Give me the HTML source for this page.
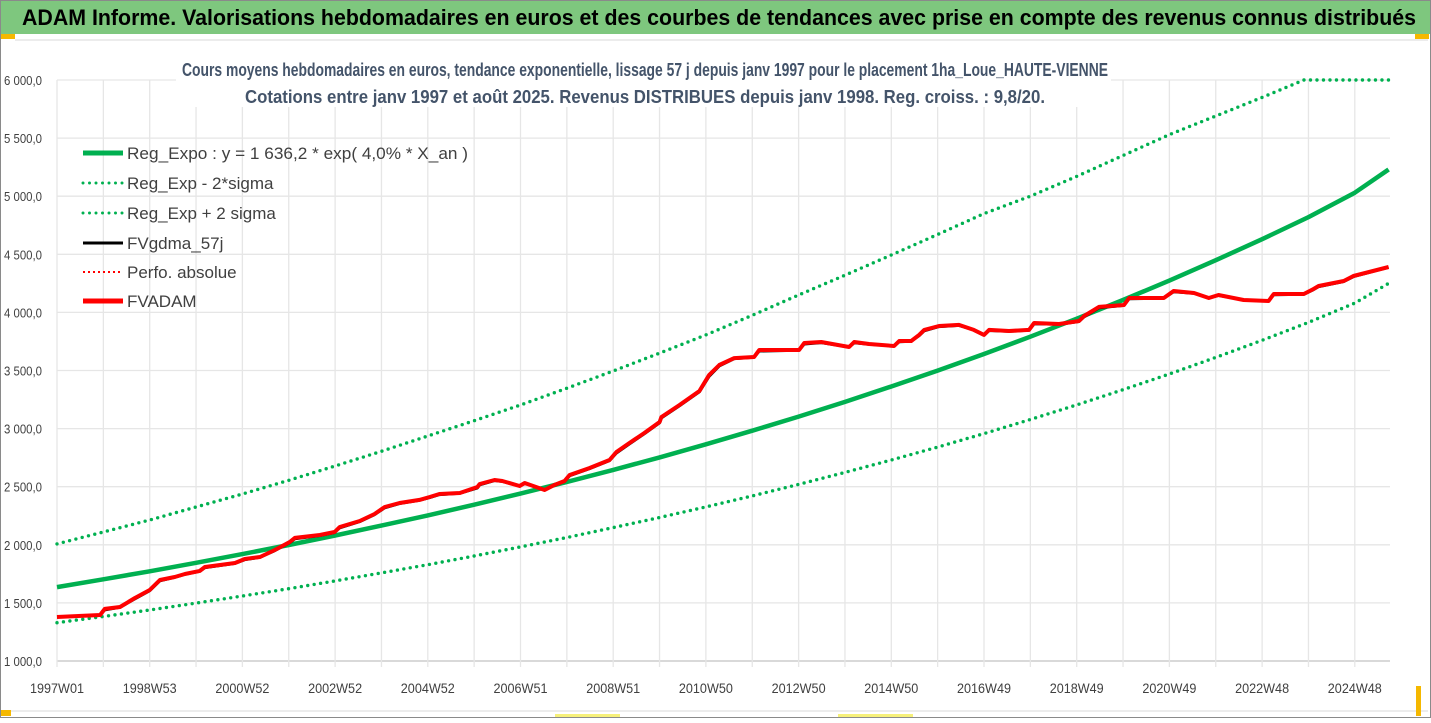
<!DOCTYPE html>
<html><head><meta charset="utf-8">
<style>
html,body{margin:0;padding:0;background:#fff;}
body{width:1431px;height:718px;position:relative;overflow:hidden;font-family:"Liberation Sans",sans-serif;}
svg text{font-family:"Liberation Sans",sans-serif;}
</style></head>
<body>
<svg id="chart" width="1431" height="718" viewBox="0 0 1431 718" xmlns="http://www.w3.org/2000/svg">
  <rect x="0.5" y="0.5" width="1430" height="717" fill="#fff" stroke="#8a8a8a"/>
  <rect x="1" y="1" width="1429" height="33" fill="#7ec77e"/>
  <text x="22" y="25" font-size="22" font-weight="bold" fill="#000" textLength="1394" lengthAdjust="spacingAndGlyphs">ADAM Informe. Valorisations hebdomadaires en euros et des courbes de tendances avec prise en compte des revenus connus distribués</text>
  <rect x="1" y="34" width="14" height="5" fill="#f5b800"/>
  <rect x="1415" y="34" width="14" height="5" fill="#f5b800"/>
  <line x1="15" y1="40" x2="1428" y2="40" stroke="#d8d8d8"/>
  <line x1="1" y1="711" x2="1428" y2="711" stroke="#d8d8d8"/>
  <rect x="1" y="710" width="10" height="6" fill="#f5b800"/>
  <rect x="1416" y="686" width="5" height="30" fill="#f5b800"/>
  <rect x="555" y="714" width="65" height="3" fill="#f6f07a"/>
  <rect x="838" y="714" width="75" height="3" fill="#f6f07a"/>
  <g id="grid"></g>
  <g id="axes"></g>
  <g id="series"></g>
  <rect x="176" y="57" width="935" height="50" fill="#fff"/>
  <text x="645" y="76" font-size="18" font-weight="bold" fill="#44546a" text-anchor="middle" textLength="926" lengthAdjust="spacingAndGlyphs">Cours moyens hebdomadaires en euros, tendance exponentielle, lissage 57 j depuis janv 1997 pour le placement 1ha_Loue_HAUTE-VIENNE</text>
  <text x="645" y="103" font-size="18" font-weight="bold" fill="#44546a" text-anchor="middle" textLength="800" lengthAdjust="spacingAndGlyphs">Cotations entre janv 1997 et août 2025. Revenus DISTRIBUES depuis janv 1998. Reg. croiss. : 9,8/20.</text>
  <g id="legend">
    <g>
      <line x1="83" y1="153" x2="123" y2="153" stroke="#00b050" stroke-width="5"/>
      <text x="127" y="159" font-size="17" fill="#404040" textLength="341" lengthAdjust="spacingAndGlyphs">Reg_Expo : y = 1 636,2 * exp( 4,0% *  X_an )</text>
    </g>
    <g>
      <line x1="83" y1="183" x2="123" y2="183" stroke="#00b050" stroke-width="3" stroke-dasharray="0 6.5" stroke-linecap="round"/>
      <text x="127" y="189" font-size="17" fill="#404040">Reg_Exp - 2*sigma</text>
    </g>
    <g>
      <line x1="83" y1="213" x2="123" y2="213" stroke="#00b050" stroke-width="3" stroke-dasharray="0 6.5" stroke-linecap="round"/>
      <text x="127" y="219" font-size="17" fill="#404040">Reg_Exp + 2 sigma</text>
    </g>
    <g>
      <line x1="83" y1="243" x2="123" y2="243" stroke="#000" stroke-width="3"/>
      <text x="127" y="249" font-size="17" fill="#404040">FVgdma_57j</text>
    </g>
    <g>
      <line x1="83" y1="272" x2="123" y2="272" stroke="#ff0000" stroke-width="2" stroke-dasharray="2 3"/>
      <text x="127" y="278" font-size="17" fill="#404040">Perfo. absolue</text>
    </g>
    <g>
      <line x1="83" y1="301" x2="123" y2="301" stroke="#ff0000" stroke-width="5"/>
      <text x="127" y="307" font-size="17" fill="#404040">FVADAM</text>
    </g>
  </g>
</svg>
<script>
// ---- data ----
const yTicks = [1000,1500,2000,2500,3000,3500,4000,4500,5000,5500,6000];
const yTickLabels = ["1 000,0","1 500,0","2 000,0","2 500,0","3 000,0","3 500,0","4 000,0","4 500,0","5 000,0","5 500,0","6 000,0"];
const xTickYears = [1997,1999,2001,2003,2005,2007,2009,2011,2013,2015,2017,2019,2021,2023,2025];
const xTickLabels = ["1997W01","1998W53","2000W52","2002W52","2004W52","2006W51","2008W51","2010W50","2012W50","2014W50","2016W49","2018W49","2020W49","2022W48","2024W48"];
const trendYears = [1997,1998,1999,2000,2001,2002,2003,2004,2005,2006,2007,2008,2009,2010,2011,2012,2013,2014,2015,2016,2017,2018,2019,2020,2021,2022,2023,2024,2025,2025.73];
const regExpo = [1636,1703,1772,1845,1920,1998,2080,2165,2253,2345,2441,2541,2645,2752,2865,2982,3103,3230,3362,3499,3642,3791,3946,4107,4274,4449,4630,4820,5030,5230];
const regMinus2Sigma = [1330,1383,1439,1498,1559,1622,1689,1758,1829,1904,1982,2063,2148,2235,2326,2421,2520,2623,2730,2841,2957,3078,3204,3335,3470,3613,3760,3914,4080,4250];
const upperYears = [1997,1998,1999,2000,2001,2002,2003,2004,2005,2006,2007,2008,2009,2010,2011,2012,2013,2014,2015,2016,2017,2018,2019,2020,2021,2022,2023,2023.9,2025.73];
const regPlus2Sigma = [2008,2110,2213,2325,2437,2555,2678,2805,2936,3068,3203,3348,3496,3650,3806,3975,4150,4320,4494,4670,4850,5000,5170,5350,5530,5690,5850,6000,6000];
const fvDates = [1997.00,1997.93,1998.03,1998.36,1998.68,1999.00,1999.22,1999.54,1999.76,2000.08,2000.19,2000.84,2001.05,2001.38,2001.70,2002.02,2002.13,2002.67,2002.99,2003.10,2003.53,2003.85,2004.07,2004.39,2004.82,2005.04,2005.25,2005.69,2006.07,2006.12,2006.44,2006.61,2006.98,2007.09,2007.52,2007.73,2007.95,2008.06,2008.49,2008.92,2009.07,2009.35,2009.67,2010.00,2010.04,2010.43,2010.86,2011.07,2011.29,2011.61,2012.04,2012.15,2013.01,2013.12,2013.49,2014.09,2014.20,2014.52,2015.06,2015.17,2015.43,2015.60,2015.71,2016.03,2016.46,2016.78,2017.00,2017.11,2017.54,2017.97,2018.08,2018.62,2019.05,2019.16,2019.48,2020.02,2020.13,2020.88,2021.09,2021.53,2021.85,2022.06,2022.60,2023.14,2023.25,2023.90,2024.11,2024.22,2024.76,2024.97,2025.73];
const fvadam = [1379,1396,1448,1465,1542,1611,1697,1723,1749,1775,1809,1843,1878,1895,1955,2024,2059,2084,2110,2153,2205,2265,2325,2360,2386,2411,2437,2446,2497,2523,2558,2549,2506,2532,2472,2515,2549,2601,2661,2730,2799,2876,2962,3057,3100,3203,3324,3461,3547,3607,3616,3676,3676,3737,3745,3702,3745,3728,3711,3754,3754,3806,3849,3883,3892,3849,3806,3849,3840,3849,3909,3900,3926,3969,4047,4064,4124,4124,4184,4167,4124,4150,4107,4098,4158,4158,4201,4227,4270,4313,4391];
const fvgdma = [1379,1396,1440,1462,1535,1605,1690,1720,1746,1772,1803,1840,1872,1892,1950,2018,2052,2080,2106,2146,2200,2260,2318,2355,2383,2406,2432,2443,2490,2516,2553,2546,2506,2528,2474,2510,2545,2595,2656,2725,2790,2868,2955,3050,3092,3196,3317,3450,3540,3602,3614,3668,3674,3728,3740,3702,3738,3726,3710,3748,3752,3800,3842,3878,3888,3849,3808,3844,3838,3846,3902,3898,3922,3962,4040,4060,4118,4122,4178,4165,4126,4146,4108,4098,4152,4156,4196,4222,4266,4308,4388];

// ---- axes ----
const X0 = 57, PX_PER_YEAR = 46.35, Y0 = 661, PX_PER_UNIT = 58.1/500;
function xScale(yr){ return X0 + (yr-1997)*PX_PER_YEAR; }
function yScale(v){ return Y0 - (v-1000)*PX_PER_UNIT; }
const XEND = 1390;
const NS = "http://www.w3.org/2000/svg";
const grid = document.getElementById('grid');
const axes = document.getElementById('axes');
const series = document.getElementById('series');

yTicks.forEach((v,i)=>{
  const y = yScale(v);
  const l = document.createElementNS(NS,'line');
  l.setAttribute('x1',X0); l.setAttribute('x2',XEND); l.setAttribute('y1',y); l.setAttribute('y2',y);
  l.setAttribute('stroke', v===1000 ? '#d9d9d9' : '#e6e6e6'); l.setAttribute('stroke-width', v===1000?2:1.3);
  
  
  grid.appendChild(l);
  const t = document.createElementNS(NS,'text');
  t.setAttribute('x',4); t.setAttribute('y',y+5);
  t.setAttribute('font-size','13'); t.setAttribute('fill','#404040');
  t.setAttribute('textLength','38'); t.setAttribute('lengthAdjust','spacingAndGlyphs');
  t.textContent = yTickLabels[i];
  
  
  axes.appendChild(t);
});
for(let yr=1997; xScale(yr)<=XEND; yr++){
  const x = xScale(yr);
  const l = document.createElementNS(NS,'line');
  l.setAttribute('x1',x); l.setAttribute('x2',x); l.setAttribute('y1',yScale(6000)); l.setAttribute('y2',Y0+6);
  l.setAttribute('stroke','#e6e6e6'); l.setAttribute('stroke-width',1.3);
  
  
  grid.appendChild(l);
}
xTickYears.forEach((yr,i)=>{
  const t = document.createElementNS(NS,'text');
  t.setAttribute('x',xScale(yr)); t.setAttribute('y',693); t.setAttribute('text-anchor','middle');
  t.setAttribute('font-size','13.5'); t.setAttribute('fill','#404040');
  t.setAttribute('textLength','54'); t.setAttribute('lengthAdjust','spacingAndGlyphs');
  t.textContent = xTickLabels[i];
  
  
  axes.appendChild(t);
});

function path(xs, vs, stroke, width, dash, name){
  const p = document.createElementNS(NS,'path');
  let d = '';
  xs.forEach((yr,i)=>{ d += (i?'L':'M') + xScale(yr).toFixed(1) + ' ' + yScale(vs[i]).toFixed(1); });
  p.setAttribute('d', d);
  p.setAttribute('fill','none'); p.setAttribute('stroke',stroke); p.setAttribute('stroke-width',width);
  p.setAttribute('stroke-linejoin','round');
  if(dash){ p.setAttribute('stroke-dasharray',dash); p.setAttribute('stroke-linecap','round'); }
  
  
  series.appendChild(p);
}
path(trendYears, regMinus2Sigma, '#00b050', 3.4, '0 6.5', 'line-reg-exp-minus-2sigma');
path(upperYears, regPlus2Sigma, '#00b050', 3.4, '0 6.5', 'line-reg-exp-plus-2sigma');
path(trendYears, regExpo, '#00b050', 4.5, null, 'line-reg-expo');
path(fvDates, fvgdma, '#000000', 3, null, 'line-fvgdma-57j');
path(fvDates, fvadam, '#ff0000', 4, null, 'line-fvadam');
</script>
</body></html>
